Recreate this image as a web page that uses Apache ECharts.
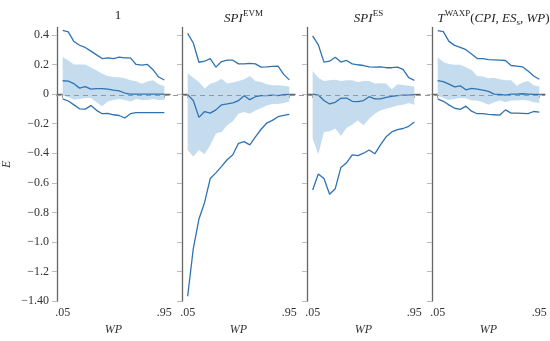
<!DOCTYPE html>
<html><head><meta charset="utf-8">
<script src="https://cdn.jsdelivr.net/npm/echarts@6/dist/echarts.min.js"></script>
<style>html,body{margin:0;padding:0;background:#fff}#c{width:550px;height:341px}</style>
</head><body><div id="c"></div>
<script>
// ---------- data ----------
const wp = [0.05,0.10,0.15,0.20,0.25,0.30,0.35,0.40,0.45,0.50,0.55,0.60,0.65,0.70,0.75,0.80,0.85,0.90,0.95];
const xTickValues = [0.05, 0.95];
const xTickLabels = ['.05', '.95'];
const yTickValues = [-1.4,-1.2,-1.0,-0.8,-0.6,-0.4,-0.2,0,0.2,0.4];
const yTickLabels = ['\u22121.40','\u22121.2','\u22121.0','\u22120.8','\u22120.6','\u22120.4','\u22120.2','0','0.2','0.4'];

// Panel 1: "1"
const p1Upper  = [0.43,0.42,0.355,0.33,0.315,0.29,0.265,0.24,0.245,0.24,0.25,0.245,0.245,0.20,0.195,0.20,0.165,0.115,0.095];
const p1Center = [0.09,0.087,0.07,0.04,0.05,0.033,0.037,0.037,0.033,0.027,0.022,0.007,0,0,0,0,0,0,0];
const p1BandHi = [0.25,0.227,0.20,0.20,0.20,0.18,0.16,0.138,0.122,0.115,0.113,0.107,0.093,0.087,0.07,0.085,0.093,0.067,0.055];
const p1BandLo = [-0.01,-0.022,-0.038,-0.033,-0.027,-0.027,-0.055,-0.082,-0.05,-0.04,-0.033,-0.04,-0.05,-0.033,-0.04,-0.04,-0.033,-0.04,-0.04];
const p1Lower  = [-0.033,-0.047,-0.073,-0.10,-0.102,-0.078,-0.11,-0.133,-0.13,-0.14,-0.145,-0.162,-0.133,-0.125,-0.125,-0.125,-0.125,-0.125,-0.125];

// Panel 2: SPI^EVM
const p2Upper  = [0.41,0.345,0.215,0.222,0.24,0.182,0.22,0.229,0.229,0.204,0.204,0.207,0.204,0.182,0.184,0.187,0.189,0.133,0.096];
const p2Center = [-0.004,-0.044,-0.158,-0.118,-0.129,-0.107,-0.073,-0.067,-0.06,-0.044,-0.011,-0.038,-0.018,-0.011,-0.011,-0.007,-0.011,-0.004,-0.002];
const p2BandHi = [0.14,0.111,0.082,0.038,0.069,0.082,0.104,0.071,0.078,0.089,0.10,0.122,0.089,0.082,0.067,0.06,0.06,0.056,0.051];
const p2BandLo = [-0.378,-0.422,-0.378,-0.407,-0.344,-0.267,-0.256,-0.211,-0.184,-0.133,-0.122,-0.133,-0.111,-0.096,-0.078,-0.067,-0.067,-0.06,-0.051];
const p2Lower  = [-1.367,-1.045,-0.845,-0.733,-0.571,-0.533,-0.489,-0.444,-0.411,-0.333,-0.322,-0.344,-0.289,-0.238,-0.196,-0.178,-0.153,-0.144,-0.138];

// Panel 3: SPI^ES
const p3Upper  = [0.393,0.333,0.216,0.222,0.249,0.216,0.227,0.204,0.198,0.193,0.184,0.182,0.184,0.178,0.178,0.182,0.167,0.111,0.093];
const p3Center = [0,-0.007,-0.044,-0.067,-0.056,-0.029,-0.027,-0.049,-0.051,-0.044,-0.018,-0.033,-0.033,-0.022,-0.016,-0.011,-0.007,-0.007,-0.004];
const p3BandHi = [0.156,0.111,0.089,0.093,0.096,0.089,0.093,0.093,0.082,0.089,0.089,0.071,0.073,0.071,0.033,0.067,0.062,0.056,0.051];
const p3BandLo = [-0.30,-0.407,-0.256,-0.251,-0.233,-0.282,-0.229,-0.207,-0.178,-0.211,-0.167,-0.133,-0.111,-0.10,-0.089,-0.078,-0.073,-0.06,-0.073];
const p3Lower  = [-0.649,-0.54,-0.571,-0.678,-0.64,-0.496,-0.465,-0.411,-0.416,-0.40,-0.378,-0.404,-0.344,-0.289,-0.256,-0.24,-0.233,-0.218,-0.189];

// Panel 4: T^WAXP(CPI, ES_s, WP)
const p4Upper  = [0.429,0.422,0.356,0.329,0.316,0.30,0.271,0.24,0.24,0.233,0.231,0.229,0.227,0.193,0.189,0.184,0.156,0.122,0.10];
const p4Center = [0.091,0.084,0.067,0.049,0.056,0.029,0.038,0.033,0.027,0.018,0,-0.002,-0.007,0,0,0.002,0,-0.002,-0.002];
const p4BandHi = [0.249,0.216,0.204,0.198,0.198,0.182,0.162,0.122,0.118,0.107,0.111,0.10,0.093,0.093,0.056,0.078,0.089,0.06,0.051];
const p4BandLo = [-0.011,-0.027,-0.04,-0.033,-0.027,-0.029,-0.044,-0.044,-0.056,-0.073,-0.056,-0.044,-0.056,-0.044,-0.044,-0.04,-0.044,-0.056,-0.06];
const p4Lower  = [-0.033,-0.049,-0.073,-0.096,-0.104,-0.082,-0.116,-0.133,-0.133,-0.138,-0.14,-0.142,-0.107,-0.129,-0.129,-0.131,-0.133,-0.118,-0.122];

const panelTitles = [
  '{n|1}',
  '{i|SPI}{sup|EVM}',
  '{i|SPI}{sup|ES}',
  '{i|T}{sup|WAXP}{n|(}{i|CPI, ES}{sub|s}{i|, WP}{n|)}'
];
const panels = [
  {upper:p1Upper, center:p1Center, hi:p1BandHi, lo:p1BandLo, lower:p1Lower},
  {upper:p2Upper, center:p2Center, hi:p2BandHi, lo:p2BandLo, lower:p2Lower},
  {upper:p3Upper, center:p3Center, hi:p3BandHi, lo:p3BandLo, lower:p3Lower},
  {upper:p4Upper, center:p4Center, hi:p4BandHi, lo:p4BandLo, lower:p4Lower}
];

// ---------- layout / style ----------
const FONT = 'Liberation Serif';
const LINE = '#2f73b3';
const BAND = '#c5dcee';
const AXIS = '#666';
const lefts = [56, 182, 307, 432];
const widths = [114, 113, 113, 113];
const TOP = 27.5, BOTTOM_PX = 305;
const H = BOTTOM_PX - TOP;

const grids = [], xAxes = [], yAxes = [], series = [], titles = [];
const richStyle = {
  n:{fontFamily:FONT, fontSize:13, fontWeight:'normal', color:'#222'},
  i:{fontFamily:FONT, fontSize:13, fontWeight:'normal', fontStyle:'italic', color:'#222'},
  sup:{fontFamily:FONT, fontSize:9, fontWeight:'normal', color:'#222', padding:[0,0,11,0]},
  sub:{fontFamily:FONT, fontSize:9, fontWeight:'normal', color:'#222', padding:[7,0,0,0]}
};

panels.forEach((p, k) => {
  grids.push({left:lefts[k], top:TOP, width:widths[k], height:H, containLabel:false});
  xAxes.push({
    type:'value', gridIndex:k, min:0, max:1,
    name:'WP', nameLocation:'middle', nameGap:20,
    nameTextStyle:{fontFamily:FONT, fontStyle:'italic', fontSize:12, color:'#333'},
    axisLine:{lineStyle:{color:AXIS, width:1.3}},
    axisTick:{customValues:xTickValues, length:4, lineStyle:{color:'#999'}},
    axisLabel:{customValues:xTickValues, margin:6, fontFamily:FONT, fontSize:12, color:'#333',
      formatter:v => { const j = xTickValues.findIndex(t => Math.abs(t - v) < 1e-9); return j >= 0 ? xTickLabels[j] : ''; }},
    splitLine:{show:false}
  });
  yAxes.push({
    type:'value', gridIndex:k, min:-1.4, max:0.45,
    name: k === 0 ? 'E' : '', nameLocation:'middle', nameGap:44, nameRotate:90,
    nameTextStyle:{fontFamily:FONT, fontStyle:'italic', fontSize:12, color:'#333'},
    axisLine:{show:true, lineStyle:{color:AXIS, width:1.3}},
    axisTick:{show:true, customValues:yTickValues, length:5, lineStyle:{color:'#bbb'}},
    axisLabel:{show:k === 0, customValues:yTickValues, margin:8, fontFamily:FONT, fontSize:12, color:'#333',
      formatter:v => { const j = yTickValues.findIndex(t => Math.abs(t - v) < 1e-9); return j >= 0 ? yTickLabels[j] : ''; }},
    splitLine:{show:false}
  });
  titles.push({
    text: panelTitles[k], left: lefts[k] + widths[k] / 2, top: 4, textAlign:'center',
    textStyle:{rich:richStyle, fontFamily:FONT, fontSize:13, fontWeight:'normal'}
  });
  const hi = p.hi, lo = p.lo;
  series.push({
    type:'custom', xAxisIndex:k, yAxisIndex:k, z:1, silent:true,
    data: wp.map((x, i) => [x, lo[i], hi[i]]),
    encode:{x:0, y:[1,2]},
    renderItem:(params, api) => {
      if (params.dataIndex !== 0) return null;
      const pts = [];
      for (let i = 0; i < wp.length; i++) pts.push(api.coord([wp[i], hi[i]]));
      for (let i = wp.length - 1; i >= 0; i--) pts.push(api.coord([wp[i], lo[i]]));
      return {type:'polygon', shape:{points:pts}, style:{fill:BAND}};
    }
  });
  [p.upper, p.center, p.lower].forEach(arr => {
    series.push({
      type:'line', xAxisIndex:k, yAxisIndex:k, z:3, symbol:'none', silent:true,
      data: wp.map((x, i) => [x, arr[i]]),
      lineStyle:{color:LINE, width:1.3}
    });
  });
});

// full-width reference grid for the dashed zero line
grids.push({left:lefts[0], top:TOP, width:lefts[3] + widths[3] - lefts[0], height:H});
xAxes.push({type:'value', gridIndex:4, min:0, max:1, show:false});
yAxes.push({type:'value', gridIndex:4, min:-1.4, max:0.45, show:false});
series.push({
  type:'line', xAxisIndex:4, yAxisIndex:4, data:[], z:2, silent:true,
  markLine:{silent:true, symbol:'none', label:{show:false},
    lineStyle:{color:'#999', type:[5,4], width:1}, data:[{yAxis:0}]}
});

const chart = echarts.init(document.getElementById('c'), null, {renderer:'canvas'});
chart.setOption({
  animation:false, backgroundColor:'#fff',
  title:titles, grid:grids, xAxis:xAxes, yAxis:yAxes, series:series
});
</script></body></html>
